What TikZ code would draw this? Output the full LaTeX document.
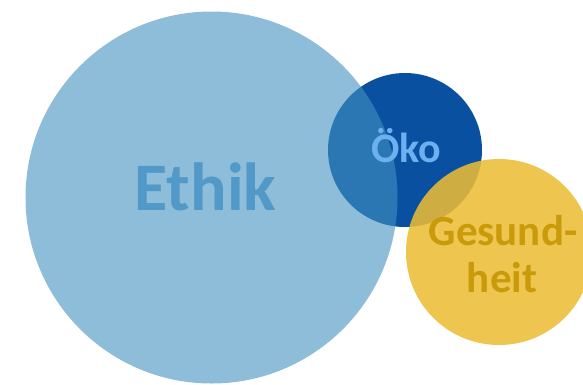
\documentclass[tikz,border=0pt]{standalone}
\usepackage{fontspec}
\setmainfont{Carlito}
\definecolor{ethikblue}{RGB}{65,145,192}
\definecolor{ethiktext}{RGB}{81,153,200}
\definecolor{okoblue}{RGB}{10,80,161}
\definecolor{okotext}{RGB}{108,176,240}
\definecolor{gesundyellow}{RGB}{236,188,52}
\definecolor{gesundtext}{RGB}{201,154,10}

\begin{document}
\begin{tikzpicture}[x=1pt,y=-1pt,
                    bubble/.style={draw=none},
                    bubble label/.style={font=\bfseries,align=center,inner sep=0pt}]
    \coordinate (ethik centre) at (211.5,197.5);
    \coordinate (oko centre) at (405,150);
    \coordinate (gesund centre) at (499,252);

    \path[use as bounding box] (0,0) rectangle (583,384);

    \fill[bubble,okoblue] (oko centre) circle[radius=77];
    \fill[bubble,ethikblue,fill opacity=0.6] (ethik centre) circle[radius=186];
    \fill[bubble,gesundyellow,fill opacity=0.87] (gesund centre) circle[radius=93];

    \node[bubble label,text=ethiktext,font=\fontsize{68}{70}\bfseries\selectfont,anchor=base] (ethik) at (205.5,210) {Ethik};
    \node[bubble label,text=okotext,font=\fontsize{42}{44}\bfseries\selectfont,anchor=base] (oko) at (406.5,162) {Öko};
    \node[bubble label,text=gesundtext,font=\fontsize{43}{47}\bfseries\selectfont,anchor=base] (gesund) at (503,245) {Gesund-};
    \node[bubble label,text=gesundtext,font=\fontsize{43}{47}\bfseries\selectfont,anchor=base] (heit) at (502,292) {heit};
\end{tikzpicture}
\end{document}
